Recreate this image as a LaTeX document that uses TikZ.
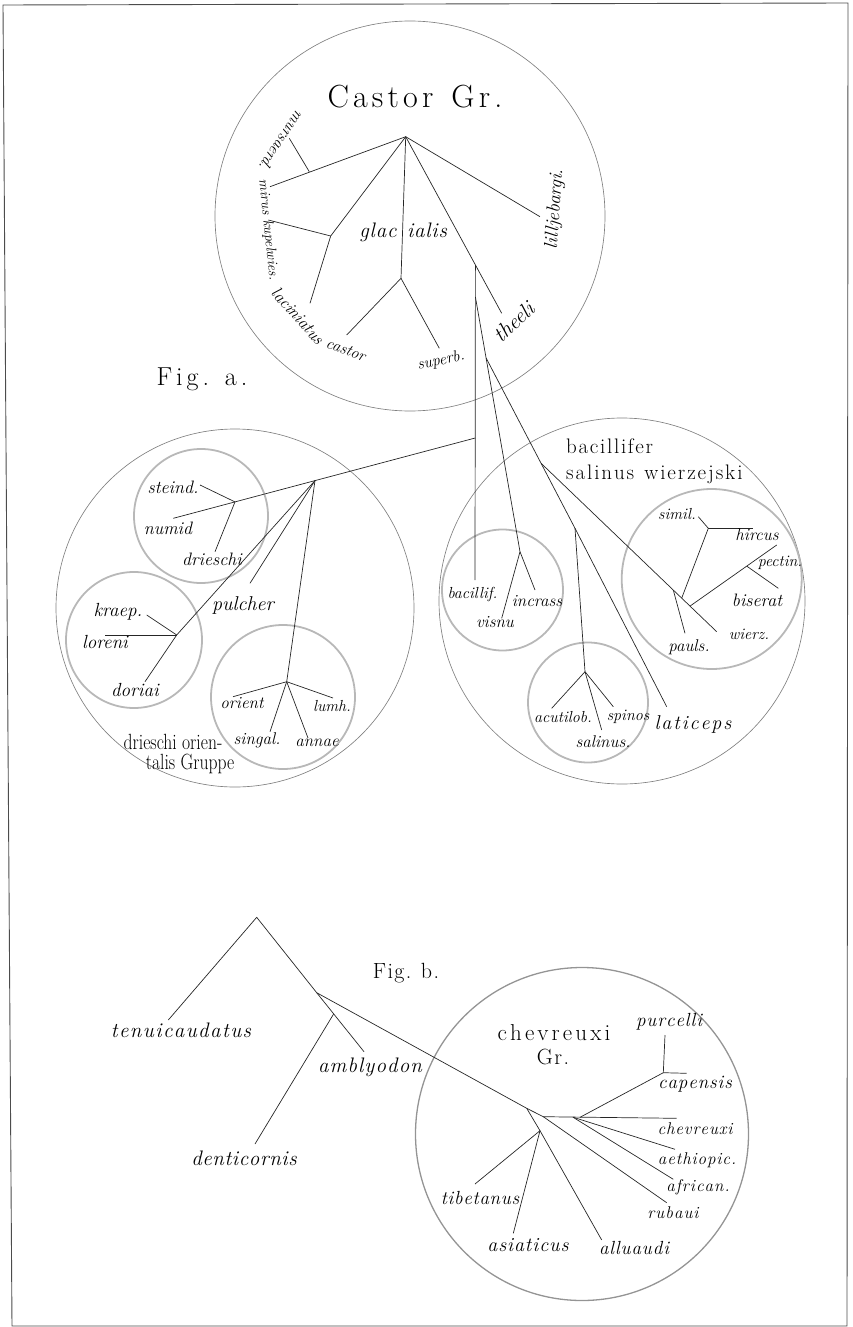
\documentclass[tikz,border=0pt]{standalone}
\usepackage{fontspec}
\usepackage{graphicx}
\makeatletter
\newcommand\spc[2]{\begingroup\def\spc@k{\kern#1\relax}\spc@first#2\@nil\endgroup}
\def\spc@first#1{#1\spc@loop}
\def\spc@loop#1{\ifx#1\@nil\else\spc@k#1\expandafter\spc@loop\fi}
\makeatother
\tikzset{
  br/.style={line width=0.7pt, draw=black!85},
  bigc/.style={circle, draw=black!50, line width=0.65pt, inner sep=0pt},
  smallc/.style={circle, draw=black!28, line width=1.8pt, inner sep=0pt},
  chevc/.style={circle, draw=black!42, line width=1.3pt, inner sep=0pt},
  frame/.style={draw=black!70, line width=0.9pt},
  lab/.style={inner sep=0pt, font=\fontsize{18}{18}\selectfont\itshape},
  labs/.style={inner sep=0pt, font=\fontsize{16}{16}\selectfont\itshape},
  labm/.style={inner sep=0pt, font=\fontsize{17}{17}\selectfont\itshape},
  labb/.style={inner sep=0pt, font=\fontsize{21}{21}\selectfont\itshape},
  labc/.style={inner sep=0pt, font=\fontsize{19}{19}\selectfont\itshape},
  rom/.style={inner sep=0pt, font=\fontsize{21}{21}\selectfont},
}
\begin{document}
\begin{tikzpicture}[x=1pt,y=-1pt]
\useasboundingbox (0,0) rectangle (852,1327);
\draw[frame] (3,5) -- (848,3) -- (847,1326) -- (12,1326) -- cycle;

% ---------------- circles
\node[bigc, minimum size=390pt] (castorC) at (410,216) {};
\node[bigc, minimum size=358pt] (leftC) at (235,608) {};
\node[bigc, minimum size=366pt] (rightC) at (622,601) {};
\node[chevc, minimum size=333pt] (chevC) at (582,1134) {};
\node[smallc, minimum size=134pt] (steindC) at (201,516) {};
\node[smallc, minimum size=136pt] (kraepC) at (134,640) {};
\node[smallc, minimum size=144pt] (orientC) at (283,697) {};
\node[smallc, minimum size=121pt] (bacC) at (502.5,590) {};
\node[smallc, minimum size=120pt] (acuC) at (588,702.5) {};
\node[smallc, minimum size=180pt] (simC) at (711.7,579) {};

% ---------------- Castor group
\coordinate (R) at (405.7,136.7);
\coordinate (a1) at (270,186.7);
\coordinate (a2) at (309.3,171.7);
\coordinate (a3) at (289.3,138.3);
\coordinate (b1) at (330.7,236);
\coordinate (b2) at (310,303.3);
\coordinate (b3) at (268.3,220);
\coordinate (c1) at (401,278.3);
\coordinate (c2) at (346.7,335);
\coordinate (c3) at (439.3,348.3);
\coordinate (dE) at (501.7,313.3);
\coordinate (eE) at (540,216.7);
\draw[br] (R) -- (a1);
\draw[br] (a2) -- (a3);
\draw[br] (R) -- (b1) -- (b2);
\draw[br] (b1) -- (b3);
\draw[br] (R) -- (c1) -- (c2);
\draw[br] (c1) -- (c3);
\draw[br] (R) -- (dE);
\draw[br] (R) -- (eE);

\node[inner sep=0pt, font=\fontsize{32}{32}\selectfont] (castorT) at (415,97) {\spc{4.2pt}{Castor~Gr.}};
\node[inner sep=0pt, font=\fontsize{21}{21}\selectfont\itshape] (glac) at (378,232) {\spc{0.8pt}{glac}};
\node[inner sep=0pt, font=\fontsize{21}{21}\selectfont\itshape] (ialis) at (427,230) {\spc{0.8pt}{ialis}};
\node[labs, rotate=-124] (mursa) at (282,141) {mursaerd.};
\node[inner sep=0pt, font=\fontsize{14.5}{14.5}\selectfont\itshape, rotate=-84] (mirus) at (268,230) {mirus kupelwies.};
\node[labm, rotate=-48] (lacin) at (298,316) {laciniatus};
\node[labs, rotate=-20] (castorL) at (346,350) {castor};
\node[labs, rotate=12] (superb) at (441,361) {superb.};
\node[inner sep=0pt, font=\fontsize{21.5}{21.5}\selectfont\itshape, rotate=42] (theeli) at (514,322) {theeli};
\node[inner sep=0pt, font=\fontsize{19}{19}\selectfont\itshape, rotate=86] (lillj) at (555,209) {lilljebargi.};
\node[inner sep=0pt, font=\fontsize{26}{26}\selectfont] (figa) at (202,379) {\spc{4pt}{Fig.~a.}};

% ---------------- stem into fig a groups
\coordinate (V0) at (475.4,265);
\coordinate (V1) at (475.4,297);
\coordinate (Vl) at (475.2,438);
\coordinate (Vb) at (475,580);
\draw[br] (V0) -- (Vb);

% ---------------- right group
\coordinate (n2) at (520,551.7);
\coordinate (incE) at (535,590);
\coordinate (visE) at (501.7,618.3);
\coordinate (P3) at (486.1,358);
\coordinate (n3) at (575,528.3);
\coordinate (P4) at (541.1,463.3);
\coordinate (n4) at (585,671.7);
\coordinate (latE) at (666.7,706.7);
\coordinate (acuE) at (551.7,708.3);
\coordinate (salE) at (601.7,730);
\coordinate (spiE) at (613.3,706.7);
\coordinate (wieE) at (716.7,631.7);
\coordinate (pa) at (673.3,590.1);
\coordinate (pauE) at (685,633.3);
\coordinate (pb) at (681.7,598.1);
\coordinate (sj) at (708.3,528.3);
\coordinate (simE) at (698.3,516.7);
\coordinate (hirE) at (753.3,528.3);
\coordinate (pc) at (690,606.1);
\coordinate (pecE) at (776.7,545);
\coordinate (pd) at (746.7,566.1);
\coordinate (bisE) at (778.3,588.3);
\draw[br] (V1) -- (n2) -- (incE);
\draw[br] (n2) -- (visE);
\draw[br] (P3) -- (n3) -- (n4);
\draw[br] (n3) -- (latE);
\draw[br] (n4) -- (acuE);
\draw[br] (n4) -- (salE);
\draw[br] (n4) -- (spiE);
\draw[br] (P4) -- (wieE);
\draw[br] (pa) -- (pauE);
\draw[br] (pb) -- (sj) -- (simE);
\draw[br] (sj) -- (hirE);
\draw[br] (pc) -- (pecE);
\draw[br] (pd) -- (bisE);

\node[rom, anchor=west] (bacT) at (566,446) {\spc{1.7pt}{bacillifer}};
\node[rom, anchor=west] (salT) at (566,474) {\spc{1.9pt}{salinus~wierzejski}};
\node[labs] (bacL) at (472.5,594) {bacillif.};
\node[labm] (incL) at (537,601) {incrass};
\node[labm] (visL) at (495,622) {visnu};
\node[labs] (acuL) at (563,717) {acutilob.};
\node[labs] (spiL) at (628,717) {spinos};
\node[labm] (salL) at (603,742) {salinus.};
\node[inner sep=0pt, font=\fontsize{20}{20}\selectfont\itshape] (latL) at (693,724) {\spc{1.9pt}{laticeps}};
\node[labs] (simL) at (677,514) {simil.};
\node[labm] (hirL) at (757,535) {hircus};
\node[labs] (pecL) at (780,563) {pectin.};
\node[lab] (bisL) at (757,600) {biserat};
\node[labs] (wieL) at (749,634) {wierz.};
\node[labm] (pauL) at (689,647) {pauls.};

% ---------------- left group
\coordinate (numE) at (173.3,518.3);
\coordinate (J2) at (315,480.6);
\coordinate (J1) at (235,501.9);
\coordinate (steE) at (200,485);
\coordinate (drE) at (215,551.7);
\coordinate (J3) at (176.7,635);
\coordinate (dorE) at (145,681.7);
\coordinate (pulE) at (250,583.3);
\coordinate (J4) at (286.7,681.7);
\coordinate (kraE) at (146.7,615);
\coordinate (lorE) at (105,635);
\coordinate (oriE) at (233,696.7);
\coordinate (sinE) at (270,731.7);
\coordinate (annE) at (308,738);
\coordinate (lumE) at (333,698);
\draw[br] (Vl) -- (numE);
\draw[br] (J1) -- (steE);
\draw[br] (J1) -- (drE);
\draw[br] (J2) -- (J3) -- (dorE);
\draw[br] (J2) -- (pulE);
\draw[br] (J2) -- (J4);
\draw[br] (J3) -- (kraE);
\draw[br] (J3) -- (lorE);
\draw[br] (J4) -- (oriE);
\draw[br] (J4) -- (sinE);
\draw[br] (J4) -- (annE);
\draw[br] (J4) -- (lumE);

\node[lab] (steL) at (173,487) {steind.};
\node[lab] (numL) at (168,528) {numid};
\node[lab] (drL) at (212,559) {drieschi};
\node[lab, font=\fontsize{19}{19}\selectfont\itshape] (kraL) at (118,612) {kraep.};
\node[lab, font=\fontsize{19}{19}\selectfont\itshape] (lorL) at (105,642) {loreni};
\node[lab, font=\fontsize{19}{19}\selectfont\itshape] (dorL) at (135,690) {doriai};
\node[lab, font=\fontsize{20}{20}\selectfont\itshape] (pulL) at (243,605) {pulcher};
\node[labm] (oriL) at (242,703) {orient};
\node[labs] (lumL) at (332,706) {lumh.};
\node[labm] (sinL) at (257,740) {singal.};
\node[labm] (annL) at (317,743) {annae};
\node[inner sep=0pt, font=\fontsize{22}{22}\selectfont] (drOr) at (173,742) {\scalebox{0.8}[1]{drieschi orien-}};
\node[inner sep=0pt, font=\fontsize{22}{22}\selectfont] (talis) at (190,764) {\scalebox{0.8}[1]{talis Gruppe}};

% ---------------- fig b
\coordinate (T) at (256.7,917.3);
\coordinate (tenE) at (168.3,1020);
\coordinate (N1) at (316.7,992.7);
\coordinate (ambE) at (364,1051.7);
\coordinate (D0) at (333.6,1014);
\coordinate (denE) at (255,1144);
\coordinate (C0) at (526.7,1108.3);
\coordinate (H1) at (543.3,1116.7);
\coordinate (chE) at (676.7,1118.3);
\coordinate (H2) at (573,1117.2);
\coordinate (H3) at (580,1117.3);
\coordinate (CJ) at (663.3,1072.7);
\coordinate (purE) at (665,1035);
\coordinate (capE) at (686.7,1073.3);
\coordinate (aetE) at (675,1149.3);
\coordinate (afrE) at (673.3,1179.3);
\coordinate (rubE) at (666.7,1202.7);
\coordinate (TJ) at (540,1130.7);
\coordinate (tibE) at (475,1184);
\coordinate (asiE) at (513.3,1233.3);
\coordinate (allE) at (601.7,1240);
\draw[br] (tenE) -- (T) -- (N1) -- (ambE);
\draw[br] (D0) -- (denE);
\draw[br] (N1) -- (C0) -- (H1) -- (chE);
\draw[br] (H3) -- (CJ) -- (purE);
\draw[br] (CJ) -- (capE);
\draw[br] (H2) -- (aetE);
\draw[br] (H2) -- (afrE);
\draw[br] (H1) -- (rubE);
\draw[br] (C0) -- (TJ) -- (tibE);
\draw[br] (TJ) -- (asiE);
\draw[br] (TJ) -- (allE);

\node[labb] (tenL) at (181,1030) {\spc{1.4pt}{tenuicaudatus}};
\node[labb] (ambL) at (370,1067) {\spc{1.1pt}{amblyodon}};
\node[labb] (denL) at (244,1158) {\spc{0.6pt}{denticornis}};
\node[inner sep=0pt, font=\fontsize{22}{22}\selectfont] (figb) at (406,973) {\spc{1.4pt}{Fig.~b.}};
\node[inner sep=0pt, font=\fontsize{23}{23}\selectfont] (chevT) at (554,1033) {\spc{3.1pt}{chevreuxi}};
\node[inner sep=0pt, font=\fontsize{22}{22}\selectfont] (grT) at (553,1057) {\spc{1.5pt}{Gr.}};
\node[labc] (purL) at (669,1022) {\spc{0.9pt}{purcelli}};
\node[labc] (capL) at (695,1084) {\spc{0.9pt}{capensis}};
\node[labm] (chL) at (695,1129) {\spc{0.9pt}{chevreuxi}};
\node[labm] (aetL) at (697,1160) {\spc{0.9pt}{aethiopic.}};
\node[labm] (afrL) at (698,1187) {\spc{1pt}{african.}};
\node[labm] (rubL) at (673,1213) {\spc{1pt}{rubaui}};
\node[labc] (tibL) at (480,1198) {\spc{0.7pt}{tibetanus}};
\node[inner sep=0pt, font=\fontsize{20}{20}\selectfont\itshape] (asiL) at (528,1245) {\spc{0.9pt}{asiaticus}};
\node[labc] (allL) at (634,1248) {\spc{0.9pt}{alluaudi}};
\end{tikzpicture}
\end{document}
